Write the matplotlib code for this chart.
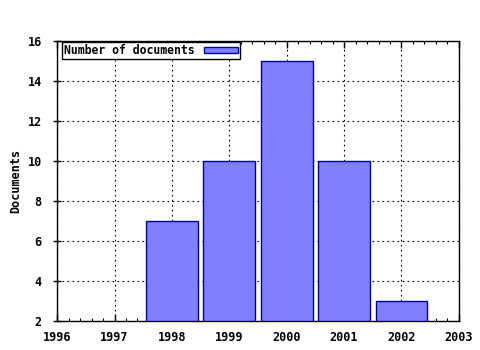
import matplotlib
matplotlib.use('Agg')
import matplotlib.pyplot as plt
from matplotlib.ticker import MultipleLocator, FormatStrFormatter

# Data
years = [1998, 1999, 2000, 2001, 2002]
docs = [7, 10, 15, 10, 3]
y_base = 2

plt.rcParams['font.family'] = 'DejaVu Sans Mono'
plt.rcParams['font.weight'] = 'bold'
plt.rcParams['font.size'] = 8.5

fig = plt.figure(figsize=(4.8, 3.5), dpi=100)
ax = fig.add_axes([0.119, 0.083, 0.837, 0.8])

ax.bar(years, [d - y_base for d in docs], bottom=y_base, width=0.9,
       color='#8080ff', edgecolor='#0000a0', linewidth=1.0,
       label='Number of documents', zorder=3)

ax.set_xlim(1996, 2003)
ax.set_ylim(2, 16)
ax.xaxis.set_major_locator(MultipleLocator(1))
ax.xaxis.set_minor_locator(MultipleLocator(0.2))
ax.yaxis.set_major_locator(MultipleLocator(2))
ax.xaxis.set_major_formatter(FormatStrFormatter('%d'))
ax.tick_params(axis='x', which='both', direction='in', top=True, color='black')
ax.tick_params(axis='x', which='major', length=5, width=1, pad=7)
ax.tick_params(axis='x', which='minor', length=2.5, width=0.8)
ax.tick_params(axis='y', which='major', direction='inout', length=6, width=1,
               right=False, pad=8)

ax.grid(True, which='major', linestyle=(0, (1.5, 3)), color='black', linewidth=0.8, zorder=0)
for s in ax.spines.values():
    s.set_linewidth(1)

ax.set_ylabel('Documents', fontweight='bold', labelpad=4)

leg = ax.legend(loc='upper left', bbox_to_anchor=(0.012, 0.995), fancybox=False,
                framealpha=1, edgecolor='black', borderpad=0.15, handlelength=3.0,
                handleheight=0.55, handletextpad=0.8, markerfirst=False,
                borderaxespad=0.0, fontsize=8.3)
leg.get_frame().set_linewidth(1)

fig.savefig('out.png', dpi=100)
